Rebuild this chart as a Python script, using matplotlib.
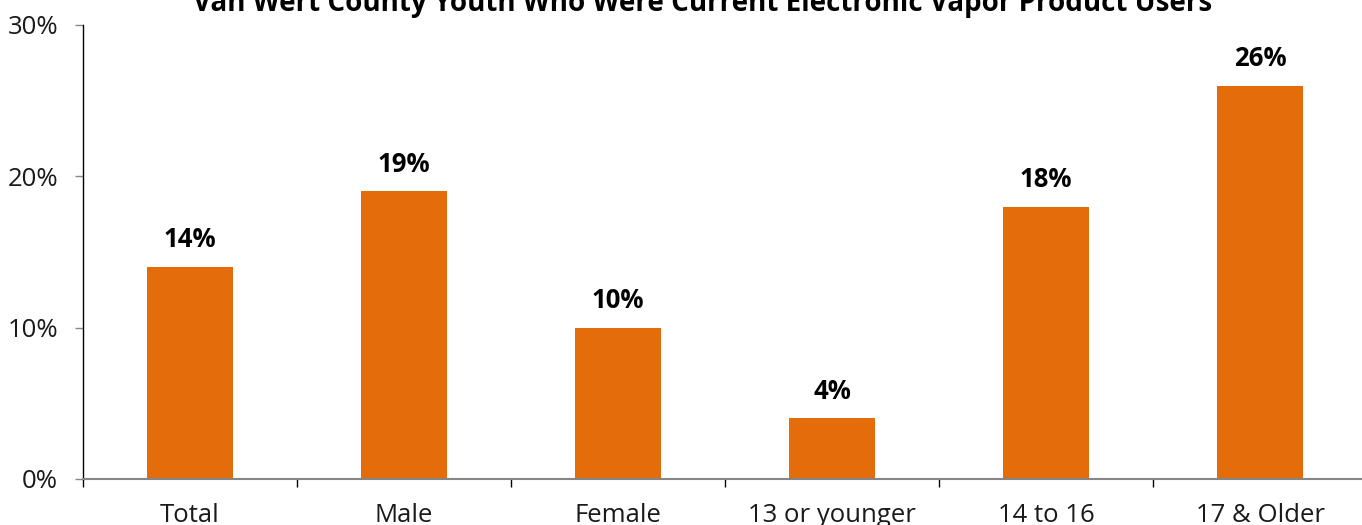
import matplotlib
matplotlib.use("Agg")
import matplotlib.pyplot as plt
from matplotlib.ticker import FixedLocator, PercentFormatter

plt.rcParams['font.family'] = ['Open Sans', 'DejaVu Sans']

categories = ["Total", "Male", "Female", "13 or younger", "14 to 16", "17 & Older"]
values = [14, 19, 10, 4, 18, 26]
y_ticks = [0, 10, 20, 30]
title = "Van Wert County Youth Who Were Current Electronic Vapor Product Users"

W, H = 1362, 525
fig = plt.figure(figsize=(W / 100, H / 100), dpi=100)
left, right, bottom, top = 83, 1367, 46, 500
ax = fig.add_axes([left / W, bottom / H, (right - left) / W, (top - bottom) / H])

bar_color = "#E46C0A"
x = range(len(categories))
ax.bar(x, values, width=0.4, color=bar_color, zorder=2)

for xi, v in zip(x, values):
    ax.annotate(f"{v}%", (xi, v), xytext=(0, 10), textcoords="offset points",
                ha="center", va="bottom", fontsize=18.5, fontweight="bold", color="#000000")

ax.set_xlim(-0.5, len(categories) - 0.5)
ax.set_ylim(0, 30)
ax.yaxis.set_major_locator(FixedLocator(y_ticks))
ax.yaxis.set_major_formatter(PercentFormatter(decimals=0))

# category labels centred, tick marks at category boundaries
ax.set_xticks(list(x))
ax.set_xticklabels(categories)
ax.xaxis.set_minor_locator(FixedLocator([i - 0.5 for i in range(len(categories) + 1)]))
ax.tick_params(axis="x", which="major", length=0, pad=17, labelsize=18.5, labelcolor="#1a1a1a")
ax.tick_params(axis="x", which="minor", length=6, color="#000000", width=1)
ax.tick_params(axis="y", length=6, color="#888888", width=1, pad=12, labelsize=18.5, labelcolor="#1a1a1a")

for s in ("top", "right"):
    ax.spines[s].set_visible(False)
ax.spines["left"].set_color("#000000")
ax.spines["left"].set_linewidth(1)
ax.spines["bottom"].set_color("#868686")
ax.spines["bottom"].set_linewidth(1.5)
ax.spines["left"].set_bounds(0, 30)

fig.text(703 / W, 1 - 11 / H, title, ha="center", va="baseline", fontsize=20,
         fontweight="bold", color="#000000")

fig.savefig("out.png", dpi=100)
